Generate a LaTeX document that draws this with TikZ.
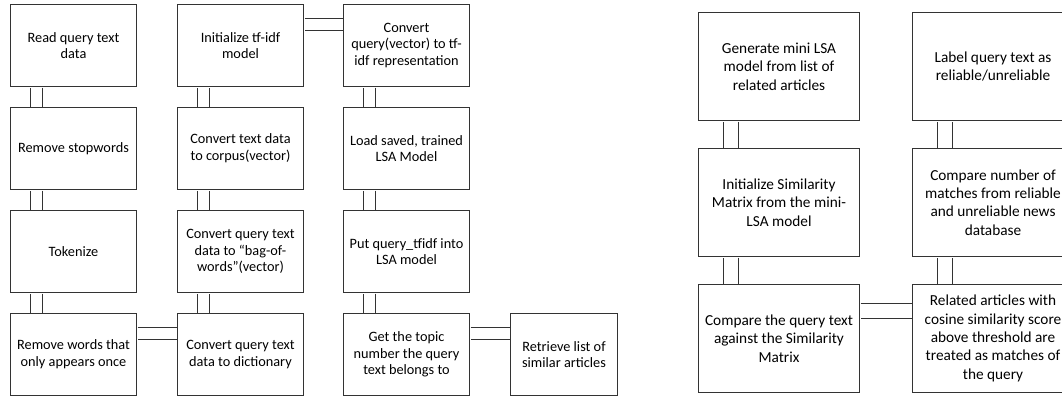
\documentclass[tikz,border=0pt]{standalone}
\usepackage{fontspec}
\setmainfont{Carlito}

\begin{document}
\begin{tikzpicture}[
        x=1pt, y=-1pt,
        box/.style={draw=black!80, line width=1pt, anchor=north west, align=center, inner sep=0pt,
          minimum width=126pt, minimum height=82pt, font=\fontsize{14.3}{16.7}\selectfont},
        big box/.style={box, minimum width=161pt, minimum height=108pt, font=\fontsize{15.3}{18.3}\selectfont},
        link/.style={draw=black!80, line width=1pt, double, double distance=11pt,
          shorten <=0.5pt, shorten >=0.5pt},
        wide link/.style={link, double distance=14pt}
      ]
      \useasboundingbox (0,0) rectangle (1062,396);

      % query pipeline
      \node[box] (read) at (10,4) {Read query text\\data};
      \node[box] (stop) at (10,107) {Remove stopwords};
      \node[box] (token) at (10,210) {Tokenize};
      \node[box] (once) at (10,313) {Remove words that\\only appears once};

      \node[box] (tfidf) at (177,4) {Initialize tf-idf\\model};
      \node[box] (corpus) at (177,107) {Convert text data\\to corpus(vector)};
      \node[box] (bow) at (177,210) {Convert query text\\data to “bag-of-\\words”(vector)};
      \node[box] (dict) at (177,313) {Convert query text\\data to dictionary};

      \node[box] (rep) at (343,4) {Convert\\query(vector) to tf-\\idf representation};
      \node[box] (load) at (343,107) {Load saved, trained\\LSA Model};
      \node[box] (put) at (343,210) {Put query\_tfidf into\\LSA model};
      \node[box] (topic) at (343,313) {Get the topic\\number the query\\text belongs to};
      \node[box, minimum width=107pt] (similar) at (510,313) {Retrieve list of\\similar articles};

      \draw[link] ([xshift=26pt]read.south west) -- ([xshift=26pt]stop.north west);
      \draw[link] ([xshift=26pt]stop.south west) -- ([xshift=26pt]token.north west);
      \draw[link] ([xshift=26pt]token.south west) -- ([xshift=26pt]once.north west);
      \draw[link] ([yshift=-20.5pt]once.north east) -- ([yshift=-20.5pt]dict.north west);
      \draw[link] ([xshift=26pt]dict.north west) -- ([xshift=26pt]bow.south west);
      \draw[link] ([xshift=26pt]bow.north west) -- ([xshift=26pt]corpus.south west);
      \draw[link] ([xshift=26pt]corpus.north west) -- ([xshift=26pt]tfidf.south west);
      \draw[link] ([yshift=-20.5pt]tfidf.north east) -- ([yshift=-20.5pt]rep.north west);
      \draw[link] ([xshift=26pt]rep.south west) -- ([xshift=26pt]load.north west);
      \draw[link] ([xshift=26pt]load.south west) -- ([xshift=26pt]put.north west);
      \draw[link] ([xshift=26pt]put.south west) -- ([xshift=26pt]topic.north west);
      \draw[link] ([yshift=-20.5pt]topic.north east) -- ([yshift=-20.5pt]similar.north west);

      % mini LSA check
      \node[big box] (mini) at (698,12) {Generate mini LSA\\model from list of\\related articles};
      \node[big box] (matrix) at (698,148) {Initialize Similarity\\Matrix from the mini-\\LSA model};
      \node[big box] (against) at (698,284) {Compare the query text\\against the Similarity\\Matrix};
      \node[big box] (label) at (912,12) {Label query text as\\reliable/unreliable};
      \node[big box] (count) at (912,148) {Compare number of\\matches from reliable\\and unreliable news\\database};
      \node[big box] (match) at (912,284) {Related articles with\\cosine similarity score\\above threshold are\\treated as matches of\\the query};

      \draw[wide link] ([xshift=32.5pt]mini.south west) -- ([xshift=32.5pt]matrix.north west);
      \draw[wide link] ([xshift=32.5pt]matrix.south west) -- ([xshift=32.5pt]against.north west);
      \draw[wide link] ([yshift=-26.5pt]against.north east) -- ([yshift=-26.5pt]match.north west);
      \draw[wide link] ([xshift=32.5pt]match.north west) -- ([xshift=32.5pt]count.south west);
      \draw[wide link] ([xshift=32.5pt]count.north west) -- ([xshift=32.5pt]label.south west);
\end{tikzpicture}
\end{document}
